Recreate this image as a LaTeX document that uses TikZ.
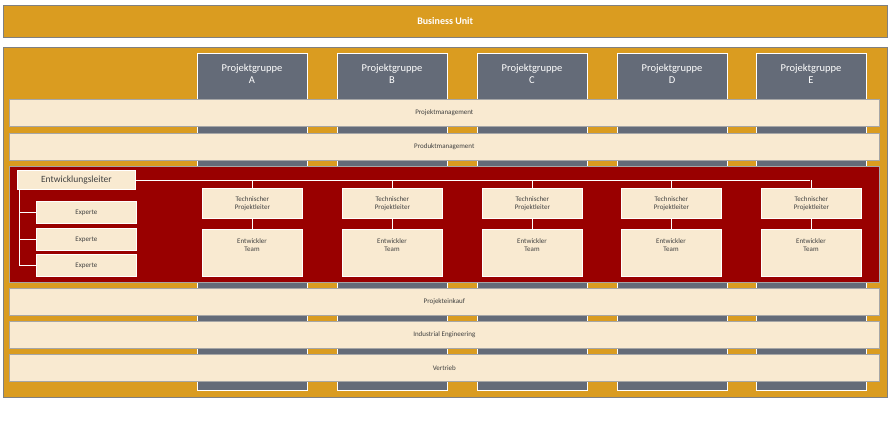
\documentclass[tikz,border=0pt]{standalone}
\usepackage{fontspec}
\setmainfont{Carlito}
\definecolor{gold}{HTML}{DA9C20}
\definecolor{cream}{HTML}{F9EAD1}
\definecolor{slate}{HTML}{646B78}
\definecolor{dred}{HTML}{990000}
\definecolor{txt}{HTML}{404040}
\begin{document}
\begin{tikzpicture}[x=1pt,y=-1pt,
  bar/.style={fill=cream,draw=gray!70,line width=0.6pt},
  lbl/.style={font=\fontsize{7}{8}\selectfont,text=txt},
  cbox/.style={fill=cream,draw=white,line width=0.8pt},
  col/.style={fill=slate,draw=white,line width=0.8pt},
  wl/.style={draw=white,line width=1pt}]
\useasboundingbox (0,0) rectangle (892,424);
\node[fill=gold,draw=gray,minimum width=884,minimum height=32,inner sep=0,anchor=north west,text=white,font=\bfseries\fontsize{10}{12}\selectfont] (bu) at (3,5) {Business Unit};
\fill[gold,draw=gray] (3,47) rectangle (887,397);
\foreach \x/\l in {197/A,337/B,477/C,617/D,756/E}{
  \draw[col] (\x,53) rectangle (\x+110,390);
  \node[text=white,align=center,font=\fontsize{10.5}{12}\selectfont] (pg\l) at (\x+55,74) {Projektgruppe\\\l};
}
\foreach \y/\t/\n in {99/Projektmanagement/pm,133/Produktmanagement/prm,288/Projekteinkauf/pe,321/Industrial Engineering/ie,354/Vertrieb/vt}{
  \node[bar,lbl,minimum width=870,minimum height=27,inner sep=0,anchor=north west] (\n) at (9,\y) {\t};
}
\fill[dred,draw=gray!70] (9,166) rectangle (879,282);
\draw[wl] (135,180) -- (810,180);
\draw[wl] (19,189) -- (19,265);
\foreach \y in {212,239,265} \draw[wl] (19,\y) -- (36,\y);
\node[cbox,minimum width=118,minimum height=19,inner sep=0,anchor=north west,text=txt,font=\fontsize{9.5}{11}\selectfont] (el) at (17,170) {Entwicklungsleiter};
\foreach \y/\i in {201/1,228/2,254/3}
  \node[cbox,lbl,minimum width=100,minimum height=22,inner sep=0,anchor=north west] (ex\i) at (36,\y) {Experte};
\foreach \x/\l in {202/A,342/B,482/C,621/D,761/E}{
  \draw[wl] (\x+50,180) -- (\x+50,188);
  \node[cbox,lbl,align=center,minimum width=100,minimum height=30,inner sep=0,anchor=north west] (tp\l) at (\x,188) {Technischer\\Projektleiter};
  \node[cbox,lbl,align=center,minimum width=100,minimum height=47,inner sep=0,anchor=north west] (et\l) at (\x,229) {};
  \node[lbl,align=center] at (\x+50,245) {Entwickler\\Team};
  \draw[wl] (tp\l.south) -- (et\l.north);
}
\end{tikzpicture}
\end{document}
